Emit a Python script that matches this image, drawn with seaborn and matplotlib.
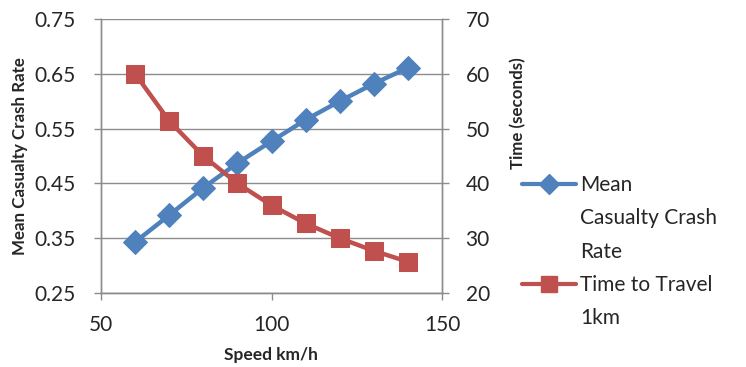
import matplotlib
matplotlib.use("Agg")
import matplotlib.pyplot as plt
import seaborn as sns
import pandas as pd
from matplotlib.lines import Line2D

# Speed (km/h) and the two measured series
speed = [60, 70, 80, 90, 100, 110, 120, 130, 140]
crash_rate = [0.343, 0.392, 0.442, 0.487, 0.527, 0.566, 0.600, 0.632, 0.661]
travel_time = [60.0, 51.4, 45.0, 40.0, 36.0, 32.7, 30.0, 27.7, 25.7]

left_ticks = [0.25, 0.35, 0.45, 0.55, 0.65, 0.75]
right_ticks = [20, 30, 40, 50, 60, 70]
x_ticks = [50, 100, 150]

label_rate = "Mean Casualty Crash Rate"
label_time = "Time to Travel 1km"

df = pd.DataFrame({"speed": speed, "rate": crash_rate, "time": travel_time})

sns.set_theme(style="white")
plt.rcParams["font.family"] = ["Lato", "DejaVu Sans"]

BLUE = "#4F81BD"
RED = "#C0504D"
GRID = "#8C8C8C"
TXT = "#262626"

fig = plt.figure(figsize=(7.46, 3.67), dpi=100)
ax = fig.add_axes([101 / 746, 1 - 293 / 367, (442 - 101) / 746, (293 - 19) / 367])
ax2 = ax.twinx()

sns.lineplot(data=df, x="speed", y="rate", ax=ax, color=BLUE, lw=3.2,
             marker="D", markersize=12, markeredgecolor=BLUE, label=label_rate,
             legend=False)
sns.lineplot(data=df, x="speed", y="time", ax=ax2, color=RED, lw=3.2,
             marker="s", markersize=13, markeredgecolor=RED, label=label_time,
             legend=False)

ax.set_xlim(50, 150)
ax.set_ylim(0.25, 0.75)
ax2.set_ylim(20, 70)
ax.set_xticks(x_ticks)
ax.set_yticks(left_ticks)
ax2.set_yticks(right_ticks)
ax.set_yticklabels([f"{v:.2f}" for v in left_ticks])
ax2.set_yticklabels([str(v) for v in right_ticks])

ax.yaxis.grid(True, color=GRID, lw=1.0)
ax.set_axisbelow(True)

for a in (ax, ax2):
    for s in a.spines.values():
        s.set_color(GRID)
        s.set_linewidth(1.0)
    a.spines["top"].set_visible(False)
    a.set_xlabel("")
    a.set_ylabel("")

ax.tick_params(axis="y", which="major", left=True, length=5, width=1.0,
               color=GRID, pad=13, labelsize=15, labelcolor=TXT)
ax.tick_params(axis="x", which="major", bottom=True, length=5, width=1.0,
               color=GRID, pad=11, labelsize=15, labelcolor=TXT)
ax2.tick_params(axis="y", which="major", right=True, length=5, width=1.0,
                color=GRID, pad=12, labelsize=15, labelcolor=TXT)

fig.text(20 / 746, 1 - 156 / 367, label_rate, rotation=90, ha="center",
         va="center", fontsize=12.2, fontweight="bold", color=TXT)
fig.text(518 / 746, 1 - 113 / 367, "Time (seconds)", rotation=90, ha="center",
         va="center", fontsize=12.2, fontweight="bold", color=TXT)
fig.text(271 / 746, 1 - 355 / 367, "Speed km/h", ha="center", va="center",
         fontsize=12.5, fontweight="bold", color=TXT)

# Legend with wrapped labels; the marker sits beside the first line of each entry
blank = Line2D([], [], color="none")
h_rate = Line2D([], [], color=BLUE, lw=3.0, marker="D", markersize=10)
h_time = Line2D([], [], color=RED, lw=3.0, marker="s", markersize=11)
leg = fig.legend([h_rate, blank, blank, h_time, blank],
                 ["Mean", "Casualty Crash", "Rate", "Time to Travel", "1km"],
                 loc="upper left", bbox_to_anchor=(522 / 746, 1 - 175 / 367),
                 frameon=False, fontsize=15, handlelength=2.6,
                 handletextpad=0.2, labelspacing=0.64, borderpad=0,
                 borderaxespad=0)
for t in leg.get_texts():
    t.set_color(TXT)

fig.savefig("out.png", dpi=100)
